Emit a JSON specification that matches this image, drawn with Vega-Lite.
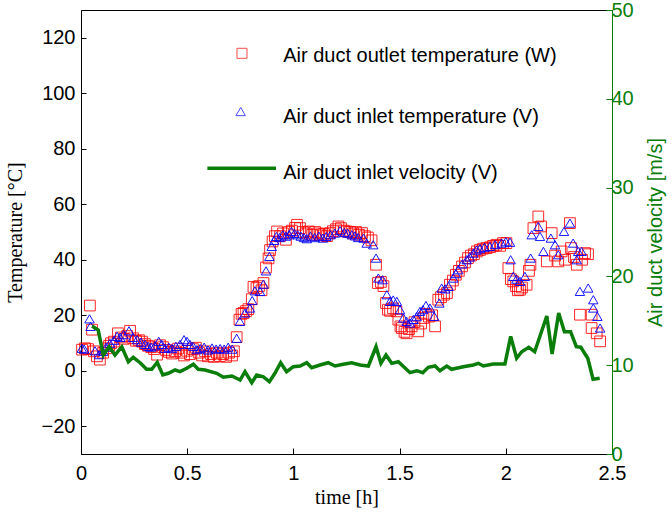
{
  "$schema": "https://vega.github.io/schema/vega-lite/v6.json",
  "width": 531,
  "height": 444,
  "autosize": {"type": "none"},
  "padding": {"left": 81, "top": 10, "right": 60, "bottom": 63},
  "background": "white",
  "config": {
    "view": {"stroke": "black", "strokeWidth": 1},
    "font": "Liberation Sans"
  },
  "datasets": {
    "outlet": [
      {"t":0.005,"T":7.6},{"t":0.019,"T":8.1},{"t":0.033,"T":7.8},{"t":0.042,"T":23.5},{"t":0.052,"T":14.8},
      {"t":0.061,"T":7.0},{"t":0.075,"T":5.2},{"t":0.089,"T":4.0},{"t":0.104,"T":6.5},{"t":0.118,"T":8.1},
      {"t":0.132,"T":9.0},{"t":0.141,"T":9.9},{"t":0.155,"T":10.5},{"t":0.174,"T":13.5},{"t":0.188,"T":12.0},
      {"t":0.202,"T":11.5},{"t":0.217,"T":12.5},{"t":0.231,"T":14.4},{"t":0.245,"T":11.7},{"t":0.259,"T":10.8},
      {"t":0.273,"T":11.0},{"t":0.287,"T":10.5},{"t":0.301,"T":9.6},{"t":0.315,"T":9.0},{"t":0.330,"T":8.5},
      {"t":0.344,"T":7.8},{"t":0.358,"T":5.8},{"t":0.372,"T":9.2},{"t":0.386,"T":8.5},{"t":0.400,"T":7.5},
      {"t":0.414,"T":6.8},{"t":0.428,"T":6.2},{"t":0.443,"T":7.0},{"t":0.457,"T":8.0},{"t":0.471,"T":6.5},
      {"t":0.485,"T":5.5},{"t":0.499,"T":7.2},{"t":0.513,"T":6.0},{"t":0.527,"T":7.8},{"t":0.541,"T":8.3},
      {"t":0.556,"T":6.5},{"t":0.570,"T":5.5},{"t":0.584,"T":7.0},{"t":0.598,"T":5.2},{"t":0.612,"T":6.0},
      {"t":0.626,"T":5.0},{"t":0.640,"T":6.5},{"t":0.654,"T":5.3},{"t":0.669,"T":6.0},{"t":0.683,"T":5.0},
      {"t":0.697,"T":6.5},{"t":0.711,"T":5.5},{"t":0.720,"T":7.0},
      {"t":0.733,"T":12.1},{"t":0.746,"T":18.4},{"t":0.756,"T":20.5},{"t":0.765,"T":20.8},{"t":0.777,"T":21.5},
      {"t":0.788,"T":22.2},{"t":0.804,"T":25.8},{"t":0.812,"T":30.2},{"t":0.826,"T":29.8},{"t":0.838,"T":30.5},
      {"t":0.850,"T":29.0},{"t":0.859,"T":31.6},{"t":0.871,"T":37.2},{"t":0.883,"T":40.5},{"t":0.890,"T":43.5},
      {"t":0.902,"T":46.6},{"t":0.913,"T":48.5},{"t":0.923,"T":50.2},{"t":0.937,"T":48.5},{"t":0.951,"T":49.5},
      {"t":0.965,"T":47.2},{"t":0.979,"T":50.0},{"t":0.993,"T":50.5},{"t":1.008,"T":51.5},{"t":1.017,"T":52.6},
      {"t":1.031,"T":51.4},{"t":1.045,"T":50.0},{"t":1.059,"T":49.5},{"t":1.073,"T":50.2},{"t":1.088,"T":49.0},
      {"t":1.102,"T":50.0},{"t":1.116,"T":49.5},{"t":1.130,"T":48.8},{"t":1.144,"T":49.3},{"t":1.158,"T":48.5},
      {"t":1.172,"T":49.6},{"t":1.186,"T":50.3},{"t":1.201,"T":51.0},{"t":1.212,"T":52.0},{"t":1.224,"T":51.4},
      {"t":1.238,"T":50.5},{"t":1.252,"T":50.2},{"t":1.267,"T":50.0},{"t":1.281,"T":49.5},{"t":1.295,"T":50.0},
      {"t":1.309,"T":49.0},{"t":1.323,"T":49.6},{"t":1.337,"T":48.5},{"t":1.351,"T":48.0},{"t":1.368,"T":47.0},
      {"t":1.389,"T":38.2},{"t":1.398,"T":31.6},{"t":1.412,"T":32.0},{"t":1.424,"T":30.5},{"t":1.436,"T":24.4},
      {"t":1.445,"T":22.0},{"t":1.455,"T":21.6},{"t":1.469,"T":22.5},{"t":1.485,"T":21.4},{"t":1.494,"T":18.4},
      {"t":1.504,"T":16.0},{"t":1.511,"T":15.4},{"t":1.523,"T":14.0},{"t":1.533,"T":13.5},{"t":1.544,"T":15.0},
      {"t":1.557,"T":16.0},{"t":1.570,"T":17.5},{"t":1.588,"T":14.2},{"t":1.601,"T":17.0},{"t":1.612,"T":19.0},
      {"t":1.624,"T":20.5},{"t":1.638,"T":19.5},{"t":1.653,"T":20.0},{"t":1.667,"T":16.0},{"t":1.682,"T":25.6},
      {"t":1.695,"T":26.5},{"t":1.709,"T":27.4},{"t":1.723,"T":28.0},{"t":1.737,"T":31.0},{"t":1.751,"T":32.5},
      {"t":1.765,"T":34.6},{"t":1.779,"T":36.0},{"t":1.794,"T":37.6},{"t":1.808,"T":39.0},{"t":1.822,"T":40.6},
      {"t":1.836,"T":41.5},{"t":1.850,"T":42.0},{"t":1.864,"T":43.0},{"t":1.878,"T":43.5},{"t":1.893,"T":44.0},
      {"t":1.909,"T":44.2},{"t":1.926,"T":44.5},{"t":1.940,"T":45.0},{"t":1.956,"T":45.4},{"t":1.973,"T":45.0},
      {"t":1.987,"T":46.0},{"t":2.003,"T":46.0},{"t":2.012,"T":37.0},{"t":2.024,"T":33.0},{"t":2.035,"T":32.2},
      {"t":2.048,"T":30.5},{"t":2.057,"T":29.0},{"t":2.067,"T":29.2},{"t":2.076,"T":30.0},{"t":2.098,"T":31.0},
      {"t":2.109,"T":36.0},{"t":2.116,"T":38.2},{"t":2.130,"T":51.4},{"t":2.153,"T":55.6},{"t":2.166,"T":52.0},
      {"t":2.193,"T":39.4},{"t":2.216,"T":49.6},{"t":2.232,"T":41.5},{"t":2.247,"T":39.4},{"t":2.263,"T":43.0},
      {"t":2.279,"T":40.0},{"t":2.302,"T":53.2},{"t":2.307,"T":44.2},{"t":2.321,"T":41.0},{"t":2.334,"T":38.2},
      {"t":2.349,"T":20.2},{"t":2.359,"T":40.0},{"t":2.373,"T":42.4},{"t":2.387,"T":42.0},{"t":2.404,"T":20.2},
      {"t":2.404,"T":15.4},{"t":2.428,"T":13.5},{"t":2.444,"T":10.6}
    ],
    "inlet": [
      {"t":0.004,"T":8.1},{"t":0.015,"T":7.8},{"t":0.040,"T":18.7},{"t":0.045,"T":16.0},{"t":0.066,"T":7.2},
      {"t":0.085,"T":5.8},{"t":0.104,"T":7.0},{"t":0.118,"T":8.5},{"t":0.136,"T":9.9},{"t":0.155,"T":11.0},
      {"t":0.170,"T":12.4},{"t":0.185,"T":12.0},{"t":0.200,"T":13.0},{"t":0.226,"T":14.4},{"t":0.245,"T":12.0},
      {"t":0.264,"T":11.2},{"t":0.283,"T":10.3},{"t":0.302,"T":9.5},{"t":0.316,"T":8.8},{"t":0.330,"T":8.5},
      {"t":0.348,"T":9.0},{"t":0.366,"T":10.6},{"t":0.380,"T":9.5},{"t":0.395,"T":8.1},{"t":0.413,"T":8.5},
      {"t":0.428,"T":8.0},{"t":0.447,"T":8.8},{"t":0.466,"T":9.5},{"t":0.485,"T":11.2},{"t":0.499,"T":10.6},
      {"t":0.513,"T":9.5},{"t":0.528,"T":8.8},{"t":0.546,"T":7.6},{"t":0.561,"T":8.0},{"t":0.580,"T":8.5},
      {"t":0.598,"T":7.5},{"t":0.617,"T":8.2},{"t":0.636,"T":7.8},{"t":0.655,"T":8.0},{"t":0.674,"T":7.8},
      {"t":0.693,"T":8.5},{"t":0.712,"T":7.8},{"t":0.733,"T":11.7},{"t":0.748,"T":17.8},{"t":0.772,"T":20.8},
      {"t":0.795,"T":22.6},{"t":0.806,"T":25.3},{"t":0.819,"T":28.8},{"t":0.843,"T":28.6},{"t":0.859,"T":31.2},
      {"t":0.871,"T":36.0},{"t":0.887,"T":41.2},{"t":0.898,"T":44.8},{"t":0.910,"T":47.0},{"t":0.920,"T":48.4},
      {"t":0.935,"T":48.0},{"t":0.950,"T":49.0},{"t":0.965,"T":48.5},{"t":0.980,"T":49.0},{"t":0.991,"T":50.2},
      {"t":1.005,"T":49.5},{"t":1.020,"T":49.0},{"t":1.035,"T":48.5},{"t":1.050,"T":48.0},{"t":1.063,"T":47.6},
      {"t":1.080,"T":48.5},{"t":1.100,"T":48.0},{"t":1.120,"T":48.5},{"t":1.139,"T":47.8},{"t":1.155,"T":48.4},
      {"t":1.175,"T":49.0},{"t":1.195,"T":49.6},{"t":1.220,"T":50.5},{"t":1.240,"T":49.8},{"t":1.255,"T":49.6},
      {"t":1.275,"T":49.0},{"t":1.290,"T":48.6},{"t":1.305,"T":48.0},{"t":1.330,"T":47.8},{"t":1.345,"T":46.0},
      {"t":1.376,"T":45.4},{"t":1.389,"T":40.6},{"t":1.400,"T":33.4},{"t":1.420,"T":32.8},{"t":1.440,"T":27.4},
      {"t":1.455,"T":25.0},{"t":1.470,"T":25.5},{"t":1.487,"T":25.0},{"t":1.502,"T":22.0},{"t":1.518,"T":19.0},
      {"t":1.533,"T":17.8},{"t":1.549,"T":17.2},{"t":1.565,"T":18.5},{"t":1.580,"T":19.5},{"t":1.596,"T":21.4},
      {"t":1.610,"T":22.0},{"t":1.624,"T":23.5},{"t":1.643,"T":22.6},{"t":1.663,"T":19.6},{"t":1.687,"T":24.4},
      {"t":1.698,"T":29.8},{"t":1.715,"T":29.5},{"t":1.730,"T":30.4},{"t":1.753,"T":33.4},{"t":1.765,"T":35.0},
      {"t":1.776,"T":36.4},{"t":1.795,"T":38.5},{"t":1.816,"T":40.0},{"t":1.830,"T":41.0},{"t":1.847,"T":42.4},
      {"t":1.862,"T":43.5},{"t":1.878,"T":44.0},{"t":1.900,"T":44.5},{"t":1.925,"T":44.8},{"t":1.950,"T":45.5},
      {"t":1.980,"T":46.0},{"t":2.000,"T":46.5},{"t":2.020,"T":46.3},{"t":2.023,"T":40.0},{"t":2.035,"T":34.0},
      {"t":2.050,"T":33.0},{"t":2.067,"T":32.2},{"t":2.090,"T":34.0},{"t":2.117,"T":40.6},{"t":2.122,"T":49.0},
      {"t":2.153,"T":52.0},{"t":2.161,"T":48.4},{"t":2.177,"T":43.0},{"t":2.212,"T":47.8},{"t":2.232,"T":45.4},
      {"t":2.247,"T":41.8},{"t":2.274,"T":50.2},{"t":2.302,"T":53.2},{"t":2.317,"T":46.0},{"t":2.334,"T":40.0},
      {"t":2.341,"T":43.0},{"t":2.357,"T":43.0},{"t":2.349,"T":28.6},{"t":2.388,"T":29.8},{"t":2.412,"T":25.6},
      {"t":2.412,"T":22.6},{"t":2.431,"T":19.6},{"t":2.444,"T":15.4}
    ],
    "velocity": [
      {"t":0.052,"v":14.41},{"t":0.081,"v":13.96},{"t":0.105,"v":11.15},{"t":0.133,"v":12.08},{"t":0.160,"v":11.15},
      {"t":0.192,"v":12.08},{"t":0.223,"v":10.39},{"t":0.246,"v":10.89},{"t":0.278,"v":10.28},{"t":0.309,"v":9.54},
      {"t":0.333,"v":9.54},{"t":0.359,"v":10.33},{"t":0.385,"v":8.90},{"t":0.411,"v":9.09},{"t":0.443,"v":9.46},
      {"t":0.466,"v":9.27},{"t":0.498,"v":9.65},{"t":0.529,"v":10.10},{"t":0.552,"v":9.54},{"t":0.584,"v":9.46},
      {"t":0.639,"v":9.09},{"t":0.670,"v":8.64},{"t":0.710,"v":8.78},{"t":0.749,"v":8.33},{"t":0.772,"v":9.27},
      {"t":0.804,"v":8.03},{"t":0.827,"v":8.90},{"t":0.858,"v":8.70},{"t":0.887,"v":8.14},{"t":0.913,"v":9.09},
      {"t":0.940,"v":10.28},{"t":0.968,"v":9.27},{"t":1.000,"v":9.83},{"t":1.031,"v":9.91},{"t":1.063,"v":10.28},
      {"t":1.086,"v":9.72},{"t":1.125,"v":10.02},{"t":1.164,"v":10.28},{"t":1.196,"v":9.91},{"t":1.235,"v":10.10},
      {"t":1.274,"v":10.28},{"t":1.314,"v":10.02},{"t":1.353,"v":9.91},{"t":1.389,"v":12.08},{"t":1.412,"v":10.21},
      {"t":1.436,"v":11.15},{"t":1.463,"v":10.21},{"t":1.494,"v":10.39},{"t":1.549,"v":9.16},{"t":1.581,"v":9.38},
      {"t":1.609,"v":9.16},{"t":1.635,"v":9.76},{"t":1.667,"v":9.91},{"t":1.690,"v":9.38},{"t":1.722,"v":9.91},
      {"t":1.745,"v":9.54},{"t":1.800,"v":9.83},{"t":1.847,"v":10.02},{"t":1.871,"v":10.21},{"t":1.894,"v":9.91},
      {"t":1.941,"v":10.14},{"t":1.996,"v":10.14},{"t":2.023,"v":13.25},{"t":2.051,"v":10.78},{"t":2.075,"v":11.52},
      {"t":2.108,"v":12.02},{"t":2.136,"v":11.52},{"t":2.193,"v":15.54},{"t":2.218,"v":11.26},{"t":2.249,"v":15.88},
      {"t":2.276,"v":13.77},{"t":2.305,"v":13.77},{"t":2.332,"v":12.08},{"t":2.353,"v":12.02},{"t":2.386,"v":10.78},
      {"t":2.411,"v":8.41},{"t":2.442,"v":8.52}
    ],
    "legendSquare": [{"t":0.758,"T":114.4}],
    "legendTriangle": [{"t":0.752,"T":93.4}],
    "legendLine": [{"t":0.595,"T":73.0},{"t":0.918,"T":73.0}],
    "legendText": [
      {"t":0.952,"T":113.3,"label":"Air duct outlet temperature (W)"},
      {"t":0.952,"T":91.6,"label":"Air duct inlet temperature (V)"},
      {"t":0.952,"T":71.2,"label":"Air duct inlet velocity (V)"}
    ]
  },
  "encoding": {
    "x": {
      "field": "t", "type": "quantitative",
      "scale": {"domain": [0, 2.5], "nice": false, "zero": false},
      "axis": {
        "values": [0, 0.5, 1, 1.5, 2, 2.5], "format": "~g",
        "title": "time [h]", "titleFont": "Liberation Serif", "titleFontSize": 20,
        "titleFontWeight": "normal", "titleColor": "black", "titlePadding": 4,
        "labelFont": "Liberation Sans", "labelFontSize": 20, "labelColor": "black",
        "labelFlush": false, "labelPadding": 15,
        "domainColor": "black", "tickColor": "black", "tickSize": -6, "grid": false
      }
    }
  },
  "layer": [
    {
      "encoding": {
        "y": {
          "field": "T", "type": "quantitative",
          "scale": {"domain": [-30, 130], "nice": false, "zero": false},
          "axis": {
            "values": [-20, 0, 20, 40, 60, 80, 100, 120],
            "title": "Temperature [°C]", "titleFont": "Liberation Serif", "titleFontSize": 20,
            "titleFontWeight": "normal", "titleColor": "black", "titlePadding": 16,
            "labelFont": "Liberation Sans", "labelFontSize": 20, "labelColor": "black",
            "labelPadding": 11, "labelFlush": false,
            "domainColor": "black", "tickColor": "black", "tickSize": -5, "grid": false
          }
        }
      },
      "layer": [
        {
          "data": {"name": "outlet"},
          "mark": {"type": "point", "shape": "square", "filled": false, "stroke": "#ff0000", "strokeWidth": 1, "size": 115, "opacity": 0.85}
        },
        {
          "data": {"name": "inlet"},
          "mark": {"type": "point", "shape": "triangle-up", "filled": false, "stroke": "#0000ff", "strokeWidth": 1, "size": 90, "opacity": 0.9}
        },
        {
          "data": {"name": "legendSquare"},
          "mark": {"type": "point", "shape": "square", "filled": false, "stroke": "#ff0000", "strokeWidth": 1, "size": 100}
        },
        {
          "data": {"name": "legendTriangle"},
          "mark": {"type": "point", "shape": "triangle-up", "filled": false, "stroke": "#0000ff", "strokeWidth": 1, "size": 90}
        },
        {
          "data": {"name": "legendLine"},
          "mark": {"type": "line", "color": "#0a7d0a", "strokeWidth": 3.5}
        },
        {
          "data": {"name": "legendText"},
          "mark": {"type": "text", "align": "left", "baseline": "middle", "font": "Liberation Sans", "fontSize": 20, "color": "black"},
          "encoding": {"text": {"field": "label"}}
        }
      ]
    },
    {
      "data": {"name": "velocity"},
      "mark": {"type": "line", "color": "#0a7d0a", "strokeWidth": 3.5},
      "encoding": {
        "y": {
          "field": "v", "type": "quantitative",
          "scale": {"domain": [0, 50], "nice": false, "zero": false},
          "axis": {
            "orient": "right", "values": [0, 10, 20, 30, 40, 50],
            "title": "Air duct velocity [m/s]", "titleFont": "Liberation Sans", "titleFontSize": 20,
            "titleFontWeight": "normal", "titleColor": "#0a7d0a", "titlePadding": 32,
            "titleAngle": 270, "titleBaseline": "bottom",
            "labelFont": "Liberation Sans", "labelFontSize": 20, "labelColor": "#0a7d0a",
            "labelPadding": 5, "labelFlush": false,
            "domainColor": "#0a7d0a", "tickColor": "#0a7d0a", "tickSize": -6, "grid": false
          }
        }
      }
    }
  ],
  "resolve": {"scale": {"y": "independent"}}
}
